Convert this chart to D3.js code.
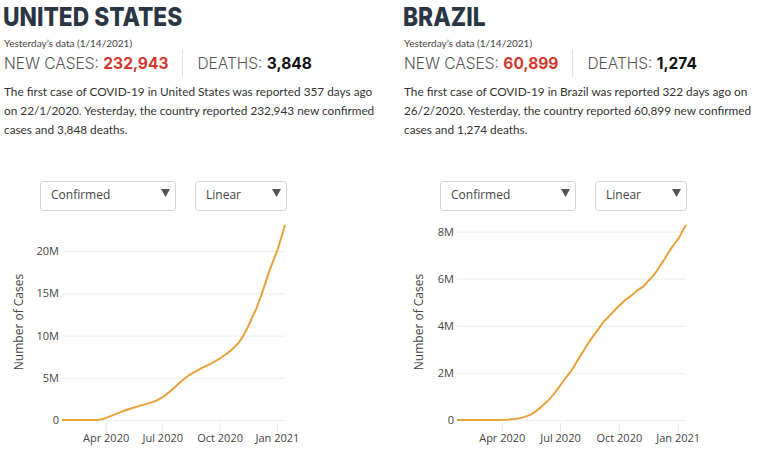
<!DOCTYPE html>
<html>
<head>
<meta charset="utf-8">
<title>COVID-19 cases</title>
<script src="https://d3js.org/d3.v7.min.js"></script>
<style>
  body { margin: 0; background: #fff; }
  .title { font-family: Inter, "Open Sans", sans-serif; font-weight: 800; font-size: 26px; fill: #2b3644; }
  .sub { font-family: Lato, sans-serif; font-size: 10px; fill: #444; }
  .stat { font-family: Inter, sans-serif; font-weight: 300; font-size: 15.5px; fill: #555; }
  .stat .num { font-weight: 700; }
  .para { font-family: Lato, sans-serif; font-size: 11.8px; fill: #333; }
  .tick text { font-family: "Open Sans", sans-serif; font-size: 11px; fill: #444; }
  .ytitle { font-family: "Open Sans", sans-serif; font-size: 12px; fill: #444; }
  .dd text { font-family: "Open Sans", sans-serif; font-size: 12px; fill: #444; }
  .line { fill: none; stroke: #e9a23b; stroke-width: 2px; }
</style>
</head>
<body>
<svg width="767" height="465"></svg>
<script>
// weekly cumulative confirmed cases
const dates = [
  "2020-01-22","2020-02-01","2020-02-15","2020-03-01","2020-03-15","2020-03-22","2020-03-29",
  "2020-04-05","2020-04-12","2020-04-19","2020-04-26","2020-05-03","2020-05-10","2020-05-17",
  "2020-05-24","2020-05-31","2020-06-07","2020-06-14","2020-06-21","2020-06-28","2020-07-05",
  "2020-07-12","2020-07-19","2020-07-26","2020-08-02","2020-08-09","2020-08-16","2020-08-23",
  "2020-08-30","2020-09-06","2020-09-13","2020-09-20","2020-09-27","2020-10-04","2020-10-11",
  "2020-10-18","2020-10-25","2020-11-01","2020-11-08","2020-11-15","2020-11-22","2020-11-29",
  "2020-12-06","2020-12-13","2020-12-20","2020-12-27","2021-01-03","2021-01-10","2021-01-14"
];
const usCases = [
  1, 8, 15, 75, 3500, 33000, 140000,
  337000, 555000, 759000, 965000, 1160000, 1330000, 1490000,
  1640000, 1790000, 1940000, 2090000, 2280000, 2550000, 2890000,
  3300000, 3770000, 4230000, 4690000, 5090000, 5440000, 5740000,
  6020000, 6290000, 6540000, 6800000, 7100000, 7430000, 7780000,
  8160000, 8640000, 9200000, 9960000, 10960000, 12100000, 13200000,
  14600000, 16100000, 17700000, 19000000, 20400000, 22100000, 23100000
];
const brCases = [
  0, 0, 0, 2, 200, 1600, 4300,
  11100, 22200, 38600, 62000, 101000, 162000, 241000,
  363000, 514000, 691000, 867000, 1086000, 1345000, 1604000,
  1864000, 2099000, 2419000, 2733000, 3035000, 3340000, 3605000,
  3862000, 4137000, 4330000, 4528000, 4732000, 4915000, 5094000,
  5225000, 5394000, 5545000, 5664000, 5876000, 6071000, 6315000,
  6603000, 6902000, 7213000, 7484000, 7733000, 8105000, 8280000
];
const usTicks = [0, 5e6, 10e6, 15e6, 20e6];
const brTicks = [0, 2e6, 4e6, 6e6, 8e6];
const xTicks = ["2020-04-01", "2020-07-01", "2020-10-01", "2021-01-01"];

const countryNames = ["UNITED STATES", "BRAZIL"];
const newCases = ["232,943", "60,899"];
const deaths = ["3,848", "1,274"];
const paragraphs = [
  ["The first case of COVID-19 in United States was reported 357 days ago",
   "on 22/1/2020. Yesterday, the country reported 232,943 new confirmed",
   "cases and 3,848 deaths."],
  ["The first case of COVID-19 in Brazil was reported 322 days ago on",
   "26/2/2020. Yesterday, the country reported 60,899 new confirmed",
   "cases and 1,274 deaths."]
];

const parse = d3.timeParse("%Y-%m-%d");
const svg = d3.select("svg");

function drawPanel(i, values, yTicks, plotLeft, plotRight) {
  const ox = i * 400;
  const g = svg.append("g");

  // header - the source font is narrower than Inter, squeeze a little
  const title = g.append("text").attr("class", "title").attr("x", ox + 3).attr("y", 25.5).text(countryNames[i]);
  const tw = title.node().getComputedTextLength();
  title.attr("textLength", tw * 0.875).attr("lengthAdjust", "spacingAndGlyphs");

  g.append("text").attr("class", "sub").attr("x", ox + 4).attr("y", 47).text("Yesterday\u2019s data (1/14/2021)");

  const stat = g.append("text").attr("class", "stat").attr("x", ox + 4).attr("y", 69);
  stat.append("tspan").text("NEW CASES: ");
  stat.append("tspan").attr("class", "num").style("fill", "#d2382c").text(newCases[i]);
  const sepX = ox + 4 + stat.node().getComputedTextLength() + 14;
  g.append("line").attr("x1", sepX).attr("x2", sepX).attr("y1", 50).attr("y2", 77)
    .attr("stroke", "#ddd").attr("stroke-width", 1);
  const dth = g.append("text").attr("class", "stat").attr("x", sepX + 15).attr("y", 69);
  dth.append("tspan").text("DEATHS: ");
  dth.append("tspan").attr("class", "num").style("fill", "#111").text(deaths[i]);

  paragraphs[i].forEach(function(t, k) {
    g.append("text").attr("class", "para").attr("x", ox + 4).attr("y", 96 + k * 19).text(t);
  });

  // dropdowns
  function dropdown(x, w, label) {
    const d = g.append("g").attr("class", "dd").attr("transform", "translate(" + x + ",181)");
    d.append("rect").attr("x", 0.5).attr("y", 0.5).attr("width", w).attr("height", 29).attr("rx", 3)
      .attr("fill", "#fff").attr("stroke", "#d4d4d4");
    d.append("text").attr("x", 11).attr("y", 18).text(label);
    d.append("path").attr("d", "M" + (w - 14) + ",8 h9 l-4.5,8 z").attr("fill", "#555");
  }
  dropdown(ox + 40, 135, "Confirmed");
  dropdown(ox + 195, 91, "Linear");

  // scales
  const data = dates.map(function(d, k) { return { date: parse(d), v: values[k] }; });
  const x = d3.scaleTime()
    .domain(d3.extent(data, function(d) { return d.date; }))
    .range([plotLeft, plotRight]);
  const y = d3.scaleLinear()
    .domain([0, d3.max(values)])
    .range([420, 225]);

  // y grid + labels
  const ya = g.append("g")
    .attr("transform", "translate(" + plotLeft + ",0)")
    .call(d3.axisLeft(y).tickValues(yTicks).tickSize(-(plotRight - plotLeft)).tickPadding(3)
      .tickFormat(function(d) { return d === 0 ? "0" : (d / 1e6) + "M"; }));
  ya.select(".domain").remove();
  ya.selectAll(".tick line").attr("stroke", "#eee");

  // x ticks + labels
  const xa = g.append("g")
    .attr("transform", "translate(0,423)")
    .call(d3.axisBottom(x).tickValues(xTicks.map(parse)).tickSize(9).tickPadding(2)
      .tickFormat(d3.timeFormat("%b %Y")));
  xa.select(".domain").remove();
  xa.selectAll(".tick line").attr("stroke", "#e6e6e6");

  g.append("text").attr("class", "ytitle")
    .attr("transform", "translate(" + (ox + 23) + ",322) rotate(-90)")
    .attr("text-anchor", "middle")
    .text("Number of Cases");

  g.append("path").datum(data).attr("class", "line")
    .attr("d", d3.line().x(function(d) { return x(d.date); }).y(function(d) { return y(d.v); }));
}

drawPanel(0, usCases, usTicks, 62, 285);
drawPanel(1, brCases, brTicks, 457, 686);
</script>
</body>
</html>
